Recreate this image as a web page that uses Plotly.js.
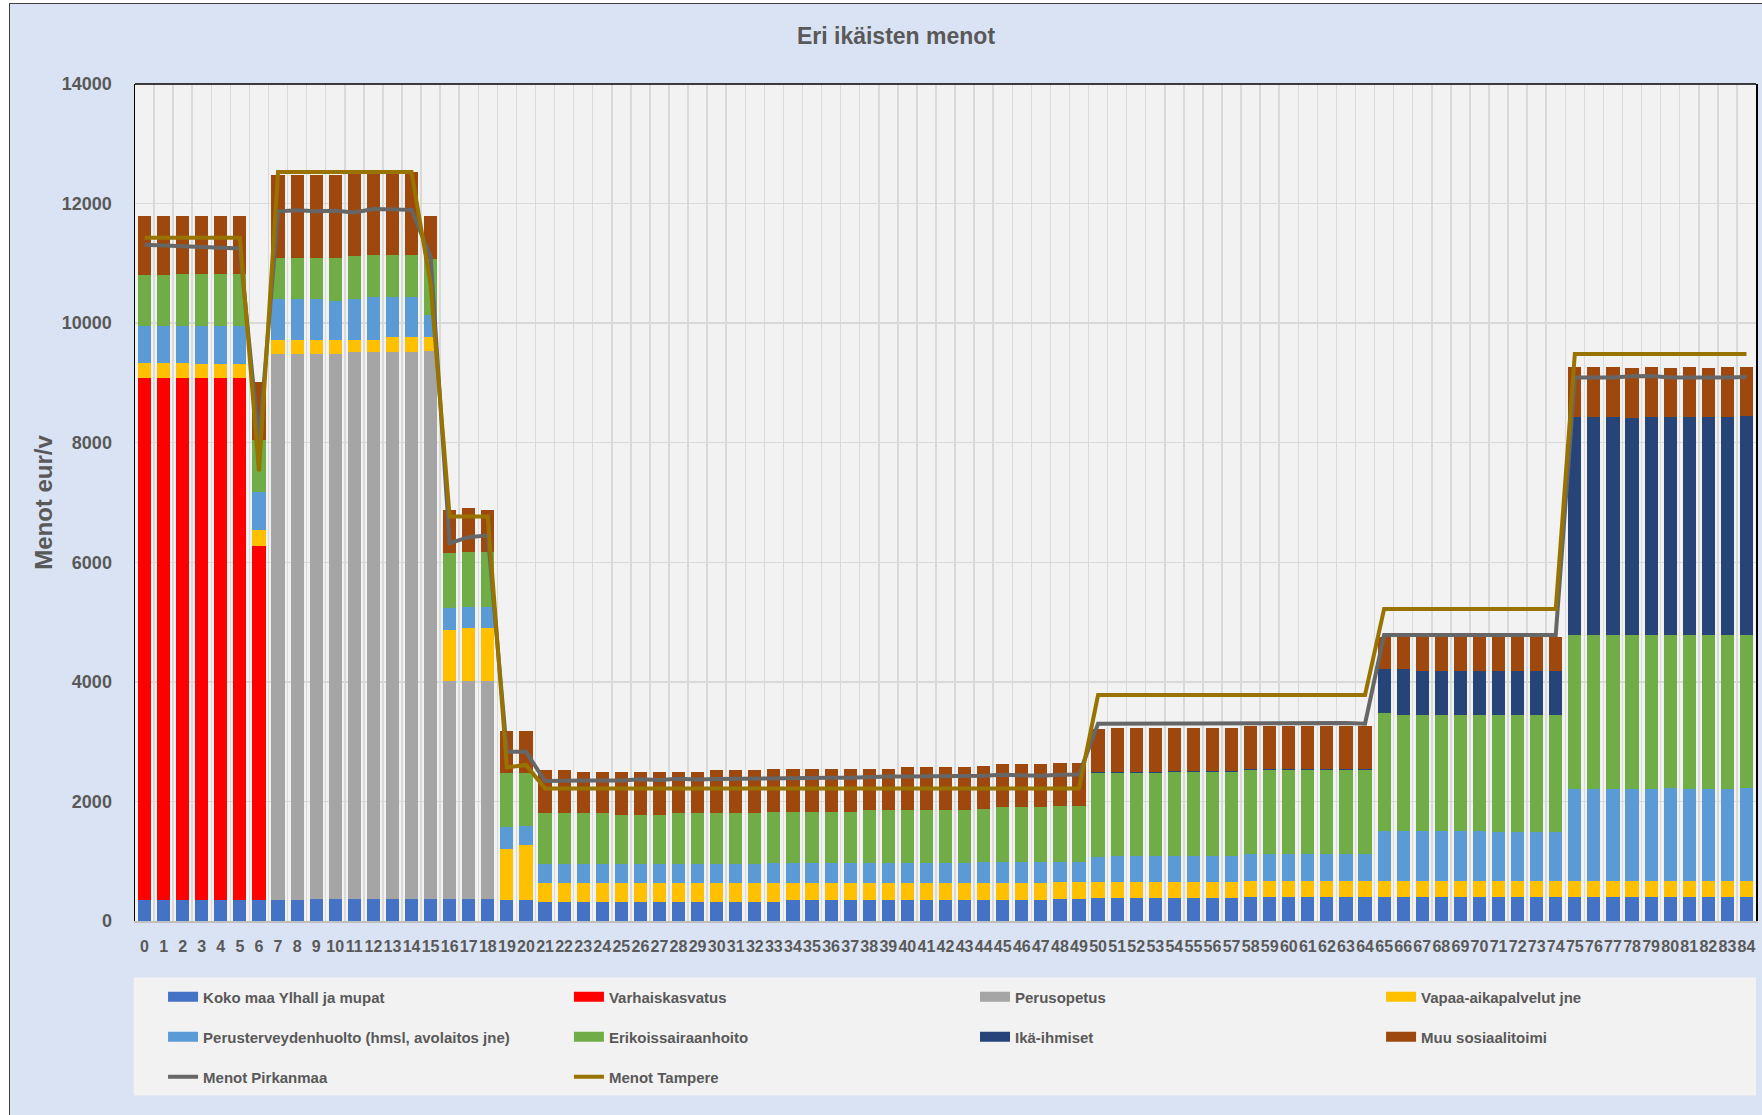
<!DOCTYPE html>
<html>
<head>
<meta charset="utf-8">
<script src="https://cdn.plot.ly/plotly-3.0.1.min.js"></script>
<style>
  html, body { margin: 0; padding: 0; background: #ffffff; overflow: hidden; }
  #chart { position: absolute; left: 9px; top: 3px; width: 1752px; height: 1111px;
           border-left: 1px solid #404040; border-top: 1px solid #404040; }
</style>
</head>
<body>
<div id="chart"></div>
<script>
// === DATI ===
// Ikä (vuotta)
const ika_vuodet = ["0","1","2","3","4","5","6","7","8","9",
  "10","11","12","13","14","15","16","17","18","19",
  "20","21","22","23","24","25","26","27","28","29",
  "30","31","32","33","34","35","36","37","38","39",
  "40","41","42","43","44","45","46","47","48","49",
  "50","51","52","53","54","55","56","57","58","59",
  "60","61","62","63","64","65","66","67","68","69",
  "70","71","72","73","74","75","76","77","78","79",
  "80","81","82","83","84"];

// Menot eur/v per palvelu
const kokoMaa = [350,350,350,350,350,350,350,350,350,370,
  370,370,370,370,370,370,370,370,370,350,
  350,325,325,325,325,325,325,325,325,325,
  325,325,325,325,350,350,350,350,350,350,
  350,350,350,350,350,350,350,350,375,375,
  380,380,380,380,380,380,380,380,400,400,
  400,400,400,400,400,400,400,400,400,400,
  400,400,400,400,400,400,400,400,400,400,
  400,400,400,400,400];

const varhaiskasvatus = [8740,8740,8740,8740,8740,8740,5930,0,0,0,
  0,0,0,0,0,0,0,0,0,0,
  0,0,0,0,0,0,0,0,0,0,
  0,0,0,0,0,0,0,0,0,0,
  0,0,0,0,0,0,0,0,0,0,
  0,0,0,0,0,0,0,0,0,0,
  0,0,0,0,0,0,0,0,0,0,
  0,0,0,0,0,0,0,0,0,0,
  0,0,0,0,0];

const perusopetus = [0,0,0,0,0,0,0,9140,9140,9120,
  9120,9140,9140,9145,9145,9165,3650,3650,3650,0,
  0,0,0,0,0,0,0,0,0,0,
  0,0,0,0,0,0,0,0,0,0,
  0,0,0,0,0,0,0,0,0,0,
  0,0,0,0,0,0,0,0,0,0,
  0,0,0,0,0,0,0,0,0,0,
  0,0,0,0,0,0,0,0,0,0,
  0,0,0,0,0];

const vapaaAika = [250,250,250,220,220,220,260,220,220,220,
  220,215,215,250,250,230,850,875,875,860,
  920,305,305,305,305,305,305,305,305,305,
  305,305,305,305,280,280,280,280,280,280,
  280,280,280,280,280,280,280,280,277,277,
  272,272,272,272,272,272,272,272,274,274,
  274,274,274,274,274,274,274,274,274,274,
  274,274,274,274,274,274,274,274,274,274,
  274,274,274,274,274];

const perusterveys = [620,620,620,650,650,650,640,690,690,690,
  665,675,705,665,665,375,360,360,360,360,
  320,318,318,318,318,318,318,318,318,318,
  318,318,318,335,335,335,335,335,335,335,
  335,335,335,335,363,363,363,363,341,341,
  414,441,441,441,441,441,441,441,447,447,
  447,447,447,447,447,837,837,837,837,837,
  837,809,809,809,809,1529,1529,1529,1529,1529,
  1556,1529,1529,1529,1556];

const erikoissairaanhoito = [840,840,860,860,860,860,865,690,690,690,
  715,720,710,710,710,940,920,915,915,900,
  880,854,854,854,854,831,831,831,854,854,
  854,854,854,864,864,864,864,864,892,892,
  892,892,892,892,886,909,909,909,936,936,
  1405,1378,1378,1378,1400,1400,1400,1400,1405,1405,
  1405,1405,1405,1405,1405,1963,1939,1939,1939,1939,
  1939,1967,1967,1967,1967,2582,2582,2582,2582,2582,
  2555,2582,2582,2582,2555];

const ikaihmiset = [0,0,0,0,0,0,0,0,0,0,
  0,0,0,0,0,0,0,0,0,0,
  0,0,0,0,0,0,0,0,0,0,
  0,0,0,0,0,0,0,0,0,0,
  0,0,0,0,0,0,0,0,0,0,
  15,15,15,15,15,20,20,20,20,20,
  20,20,20,20,20,742,766,738,738,738,
  738,738,738,738,738,3642,3642,3642,3625,3642,
  3642,3642,3642,3642,3670];

const muuSosiaali = [1000,1000,980,980,980,980,975,1380,1380,1380,
  1380,1380,1360,1360,1380,705,725,740,705,710,
  710,719,719,691,691,714,714,714,691,691,
  719,719,719,714,714,714,714,714,686,686,
  714,714,714,714,714,719,719,719,714,714,
  726,748,748,748,721,721,721,721,716,716,
  716,716,716,716,716,530,530,558,558,558,
  558,558,558,558,558,838,838,838,832,838,
  815,838,815,838,810];

// Menot yhteensä (viivat)
const menotPirkanmaa = [11310,11300,11290,11280,11260,11250,8000,11870,11890,11870,
  11880,11850,11910,11900,11895,11110,6320,6420,6450,2830,
  2830,2340,2350,2350,2350,2350,2370,2360,2380,2365,
  2375,2380,2385,2395,2395,2395,2395,2395,2410,2415,
  2415,2415,2430,2430,2430,2445,2430,2430,2445,2450,
  3300,3305,3305,3305,3305,3305,3305,3305,3305,3310,
  3320,3310,3320,3310,3300,4785,4785,4785,4785,4785,
  4785,4785,4785,4785,4785,9090,9090,9090,9110,9115,
  9090,9085,9090,9090,9100];

const menotTampere = [11430,11430,11430,11430,11430,11430,7520,12530,12530,12530,
  12530,12530,12530,12530,12530,10650,6765,6765,6765,2570,
  2610,2215,2215,2215,2215,2215,2215,2215,2215,2215,
  2215,2215,2215,2215,2215,2215,2215,2215,2215,2215,
  2215,2215,2215,2215,2215,2215,2215,2215,2215,2215,
  3780,3780,3780,3780,3780,3780,3780,3780,3780,3780,
  3780,3780,3780,3780,3780,5220,5220,5220,5220,5220,
  5220,5220,5220,5220,5220,9485,9485,9485,9485,9485,
  9485,9485,9485,9485,9485];

// === SERIE ===
const sarjat = [
  { nimi: "Koko maa Ylhall ja mupat", y: kokoMaa, vari: "#4472C4" },
  { nimi: "Varhaiskasvatus", y: varhaiskasvatus, vari: "#FF0000" },
  { nimi: "Perusopetus", y: perusopetus, vari: "#A5A5A5" },
  { nimi: "Vapaa-aikapalvelut jne", y: vapaaAika, vari: "#FFC000" },
  { nimi: "Perusterveydenhuolto (hmsl, avolaitos jne)", y: perusterveys, vari: "#5B9BD5" },
  { nimi: "Erikoissairaanhoito", y: erikoissairaanhoito, vari: "#70AD47" },
  { nimi: "Ikä-ihmiset", y: ikaihmiset, vari: "#264478" },
  { nimi: "Muu sosiaalitoimi", y: muuSosiaali, vari: "#9E480E" }
];

const tekstiVari = "#595959";
const fontti = "Liberation Sans, Arial, sans-serif";

// selitteen paikat: 4 saraketta, 3 riviä
const sarakeX = [0.0173, 0.2677, 0.5182, 0.7687];
const riviY = [-0.0908, -0.1386, -0.1864];
function legId(i) { return i === 0 ? "legend" : "legend" + (i + 1); }

let traces = [];
sarjat.forEach(s => {
  traces.push({
    x: ika_vuodet, y: s.y, type: "bar", name: s.nimi,
    marker: { color: s.vari, line: { width: 0 } },
    showlegend: false
  });
});
// selitemerkit Excelin tapaan leveinä palkkeina
sarjat.forEach((s, i) => {
  traces.push({
    x: [null], y: [null], type: "scatter", mode: "lines", name: s.nimi,
    line: { color: s.vari, width: 11 }, legend: legId(i)
  });
});
traces.push({
  x: ika_vuodet, y: menotPirkanmaa, type: "scatter", mode: "lines", name: "Menot Pirkanmaa",
  line: { color: "#666666", width: 4 }, legend: legId(8)
});
traces.push({
  x: ika_vuodet, y: menotTampere, type: "scatter", mode: "lines", name: "Menot Tampere",
  line: { color: "#997300", width: 4 }, legend: legId(9)
});

const legFont = { family: fontti, size: 15, color: tekstiVari, weight: "bold" };

const layout = {
  width: 1752, height: 1111,
  margin: { l: 125, r: 6, t: 80, b: 194 },
  paper_bgcolor: "#DAE3F3",
  plot_bgcolor: "#F2F2F2",
  barmode: "stack",
  bargap: 0.31,
  showlegend: true,
  title: {
    text: "Eri ikäisten menot",
    font: { family: fontti, size: 23, color: tekstiVari, weight: "bold" },
    xref: "container", x: 0.5057, yref: "container", y: 0.971, yanchor: "middle"
  },
  xaxis: {
    type: "category", tickmode: "linear", tick0: 0, dtick: 1, tickangle: 0,
    tickson: "boundaries", showgrid: true, gridcolor: "#D9D9D9", gridwidth: 1.5,
    showline: true, linecolor: "#BFBFBF", linewidth: 1.5,
    ticks: "", ticklabelstandoff: 10,
    tickfont: { family: "Liberation Sans Narrow, " + fontti, size: 16, color: tekstiVari, weight: "bold" }
  },
  yaxis: {
    range: [0, 14000], dtick: 2000, tick0: 0, tickformat: "d",
    showgrid: true, gridcolor: "#D9D9D9", gridwidth: 1.5, zeroline: false,
    showline: true, linecolor: "#000000", linewidth: 1.5, mirror: true,
    ticks: "", ticklabelstandoff: 18,
    tickfont: { family: fontti, size: 18, color: tekstiVari, weight: "bold" },
    title: { text: "Menot eur/v", standoff: 2,
      font: { family: fontti, size: 24, color: tekstiVari, weight: "bold" } }
  },
  shapes: [
    { type: "rect", xref: "paper", yref: "paper", x0: -0.0008, x1: 1.0, y0: -0.0676, y1: -0.2086,
      fillcolor: "#F2F2F2", line: { width: 0 }, layer: "below" },
    { type: "line", xref: "paper", yref: "paper", x0: 0, x1: 1, y0: 1, y1: 1,
      line: { color: "#000000", width: 1.5 } }
  ]
};

// yksi selite kullekin merkinnälle
for (let i = 0; i < 10; i++) {
  layout[legId(i)] = {
    orientation: "h", x: sarakeX[i % 4], xanchor: "left",
    y: riviY[Math.floor(i / 4)], yanchor: "middle",
    font: legFont, bgcolor: "rgba(0,0,0,0)"
  };
}

Plotly.newPlot("chart", traces, layout, { displayModeBar: false, staticPlot: true });
</script>
</body>
</html>
